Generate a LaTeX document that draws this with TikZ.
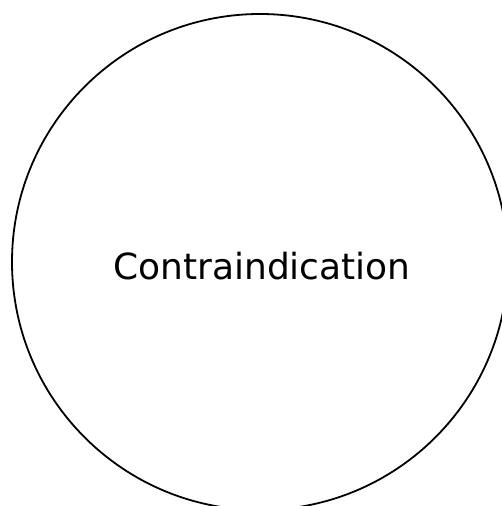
\documentclass[tikz,border=0pt]{standalone}
\usepackage{fontspec}
\setmainfont{DejaVu Sans}
\begin{document}
\begin{tikzpicture}[x=1pt,y=-1pt,
  ring/.style={draw=black,line width=1.8pt,circle,minimum size=496pt,inner sep=0pt},
  lbl/.style={font=\fontsize{36}{43}\selectfont,inner sep=0pt}]
\useasboundingbox (0,0) rectangle (502,506);
\node[ring] (c) at (260,262) {};
\node[lbl] (t) at (262,266) {Contraindication};
\end{tikzpicture}
\end{document}
